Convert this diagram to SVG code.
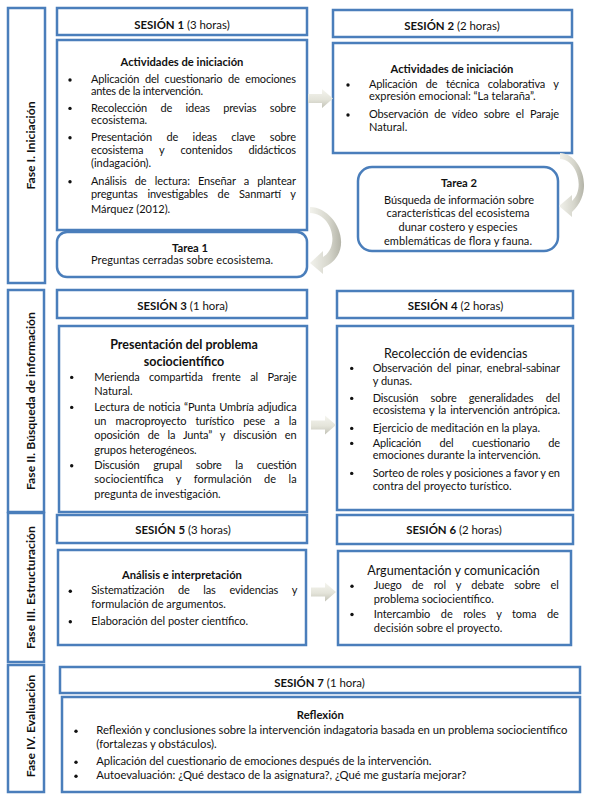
<svg xmlns="http://www.w3.org/2000/svg" width="595" height="800" viewBox="0 0 595 800">
<defs>
<style>
.box{fill:#fff;stroke:#4a7ebb;stroke-width:2.5}
.t{font-family:Lato,'Liberation Sans',sans-serif;font-size:11px;fill:#111}
.b{font-weight:bold}
.c{text-anchor:middle}
.hd{font-size:11.4px}
.tt{font-size:11.2px;font-weight:bold}
.ph{font-size:12.5px;font-weight:bold}
.big{font-size:12.6px}
.s7{font-size:11.3px}
.fase{font-family:Lato,'Liberation Sans',sans-serif;font-size:12.2px;font-weight:bold;fill:#111;text-anchor:middle}
.dot{fill:#111}
.arr{fill:url(#ga)}
.carr{fill:url(#gc)}
</style>
<linearGradient id="ga" x1="0" y1="0" x2="0" y2="1">
<stop offset="0" stop-color="#f5f5ef"/>
<stop offset="0.55" stop-color="#e4e4da"/>
<stop offset="1" stop-color="#c2c2b6"/>
</linearGradient>
<linearGradient id="gc" x1="0" y1="0" x2="1" y2="0">
<stop offset="0" stop-color="#f2f2ec"/>
<stop offset="0.6" stop-color="#d6d6cc"/>
<stop offset="1" stop-color="#b4b4a8"/>
</linearGradient>
<path id="blk" d="M0,-4.5 L14,-4.5 L14,-9.5 L25,0 L14,9.5 L14,4.5 L0,4.5 Z"/>
</defs>
<rect width="595" height="800" fill="#fff"/>

<g id="fase1"><rect class="box" x="8" y="8" width="37" height="275"/><text class="fase" transform="translate(35,145.5) rotate(-90)">Fase I. Iniciación</text></g>
<g id="fase2"><rect class="box" x="8" y="290" width="36" height="222"/><text class="fase" transform="translate(34.5,401) rotate(-90)">Fase II. Búsqueda de información</text></g>
<g id="fase3"><rect class="box" x="8" y="513" width="36" height="149"/><text class="fase" transform="translate(34.5,587.5) rotate(-90)">Fase III. Estructuración</text></g>
<g id="fase4"><rect class="box" x="8" y="665" width="36" height="127"/><text class="fase" transform="translate(35,726) rotate(-90)">Fase IV. Evaluación</text></g>

<g id="s1h"><rect class="box" x="57" y="8" width="250" height="27"/><text class="t c hd" x="182" y="28.5"><tspan class="b">SESIÓN 1</tspan> (3 horas)</text></g>
<g id="s1"><rect class="box" x="57" y="40" width="250" height="190"/>
<text class="t c tt" x="182" y="66">Actividades de iniciación</text>
<circle class="dot" cx="70" cy="80" r="1.7"/><circle class="dot" cx="70" cy="108.4" r="1.7"/><circle class="dot" cx="70" cy="137.8" r="1.7"/><circle class="dot" cx="70" cy="181.8" r="1.7"/>
<text class="t" x="91" y="83.3" word-spacing="2.9" textLength="205" lengthAdjust="spacing">Aplicación del cuestionario de emociones</text>
<text class="t" x="91" y="95" textLength="112" lengthAdjust="spacing">antes de la intervención.</text>
<text class="t" x="91" y="111.6" word-spacing="10.7" textLength="205" lengthAdjust="spacing">Recolección de ideas previas sobre</text>
<text class="t" x="91" y="124">ecosistema.</text>
<text class="t" x="91" y="141" word-spacing="11.8" textLength="205" lengthAdjust="spacing">Presentación de ideas clave sobre</text>
<text class="t" x="91" y="154" word-spacing="13.5" textLength="205" lengthAdjust="spacing">ecosistema y contenidos didácticos</text>
<text class="t" x="91" y="167.3">(indagación).</text>
<text class="t" x="91" y="185" word-spacing="5.4" textLength="205" lengthAdjust="spacing">Análisis de lectura: Enseñar a plantear</text>
<text class="t" x="91" y="198.3" word-spacing="7" textLength="205" lengthAdjust="spacing">preguntas investigables de Sanmartí y</text>
<text class="t" x="91" y="212.6">Márquez (2012).</text>
</g>
<g id="tarea1"><rect class="box" x="57" y="232" width="250" height="45" rx="10"/>
<text class="t c tt" x="190" y="251.6">Tarea 1</text>
<text class="t c" x="182" y="264" textLength="182" lengthAdjust="spacing">Preguntas cerradas sobre ecosistema.</text>
</g>

<g id="s2h"><rect class="box" x="333" y="10" width="239" height="27"/><text class="t c hd" x="452" y="29.5"><tspan class="b">SESIÓN 2</tspan> (2 horas)</text></g>
<g id="s2"><rect class="box" x="333" y="43" width="239" height="110"/>
<text class="t c tt" x="452" y="73.3">Actividades de iniciación</text>
<circle class="dot" cx="348" cy="85" r="1.7"/><circle class="dot" cx="348" cy="115" r="1.7"/>
<text class="t" x="369" y="88.3" word-spacing="5.8" textLength="190" lengthAdjust="spacing">Aplicación de técnica colaborativa y</text>
<text class="t" x="369" y="100">expresión emocional: “La telaraña”.</text>
<text class="t" x="369" y="118.3" word-spacing="3.4" textLength="190" lengthAdjust="spacing">Observación de vídeo sobre el Paraje</text>
<text class="t" x="369" y="131">Natural.</text>
</g>
<g id="tarea2"><rect class="box" x="358" y="167" width="200" height="84" rx="14"/>
<text class="t c tt" x="459" y="187.3">Tarea 2</text>
<text class="t c" x="459" y="204.3" textLength="150" lengthAdjust="spacing">Búsqueda de información sobre</text>
<text class="t c" x="458" y="217.3" textLength="143" lengthAdjust="spacing">características del ecosistema</text>
<text class="t c" x="458" y="231.3" textLength="119" lengthAdjust="spacing">dunar costero y especies</text>
<text class="t c" x="458" y="245.3" textLength="148" lengthAdjust="spacing">emblemáticas de flora y fauna.</text>
</g>

<g id="s3h"><rect class="box" x="57" y="290" width="250" height="28"/><text class="t c hd" x="182.5" y="310"><tspan class="b">SESIÓN 3</tspan> (1 hora)</text></g>
<g id="s3"><rect class="box" x="59" y="326" width="248" height="186"/>
<text class="t c ph" x="184" y="349">Presentación del problema</text>
<text class="t c ph" x="184" y="365.5">sociocientífico</text>
<circle class="dot" cx="71.7" cy="377.4" r="1.7"/><circle class="dot" cx="71.7" cy="407.4" r="1.7"/><circle class="dot" cx="71.7" cy="465.8" r="1.7"/>
<text class="t" x="94.3" y="380.6" word-spacing="6.6" textLength="202.4" lengthAdjust="spacing">Merienda compartida frente al Paraje</text>
<text class="t" x="94.3" y="395">Natural.</text>
<text class="t" x="94.3" y="410.6" word-spacing="1" textLength="202.4" lengthAdjust="spacing">Lectura de noticia “Punta Umbría adjudica</text>
<text class="t" x="94.3" y="425" word-spacing="6.4" textLength="202.4" lengthAdjust="spacing">un macroproyecto turístico pese a la</text>
<text class="t" x="94.3" y="439.3" word-spacing="5.3" textLength="202.4" lengthAdjust="spacing">oposición de la Junta” y discusión en</text>
<text class="t" x="94.3" y="454" textLength="102.4" lengthAdjust="spacing">grupos heterogéneos.</text>
<text class="t" x="94.3" y="469" word-spacing="11" textLength="202.4" lengthAdjust="spacing">Discusión grupal sobre la cuestión</text>
<text class="t" x="94.3" y="483.3" word-spacing="9.6" textLength="202.4" lengthAdjust="spacing">sociocientífica y formulación de la</text>
<text class="t" x="94.3" y="497.6" textLength="126.4" lengthAdjust="spacing">pregunta de investigación.</text>
</g>

<g id="s4h"><rect class="box" x="337" y="291" width="236" height="27"/><text class="t c hd" x="455.5" y="310"><tspan class="b">SESIÓN 4</tspan> (2 horas)</text></g>
<g id="s4"><rect class="box" x="337" y="326" width="236" height="184"/>
<text class="t c big" x="455.8" y="357.5">Recolección de evidencias</text>
<circle class="dot" cx="351.7" cy="368.4" r="1.7"/><circle class="dot" cx="351.7" cy="398.4" r="1.7"/><circle class="dot" cx="351.7" cy="428.4" r="1.7"/><circle class="dot" cx="351.7" cy="443.4" r="1.7"/><circle class="dot" cx="351.7" cy="473.4" r="1.7"/>
<text class="t" x="372.7" y="371.6" word-spacing="2.1" textLength="187.3" lengthAdjust="spacing">Observación del pinar, enebral-sabinar</text>
<text class="t" x="372.7" y="385">y dunas.</text>
<text class="t" x="372.7" y="401.6" word-spacing="9.6" textLength="187.3" lengthAdjust="spacing">Discusión sobre generalidades del</text>
<text class="t" x="372.7" y="414.3" word-spacing="1.2" textLength="187.3" lengthAdjust="spacing">ecosistema y la intervención antrópica.</text>
<text class="t" x="372.7" y="431.6" textLength="167.3" lengthAdjust="spacing">Ejercicio de meditación en la playa.</text>
<text class="t" x="372.7" y="446.6" word-spacing="15.8" textLength="187.3" lengthAdjust="spacing">Aplicación del cuestionario de</text>
<text class="t" x="372.7" y="459.3" textLength="168" lengthAdjust="spacing">emociones durante la intervención.</text>
<text class="t" x="372.7" y="476.6" textLength="187.3" lengthAdjust="spacing">Sorteo de roles y posiciones a favor y en</text>
<text class="t" x="372.7" y="490" textLength="139" lengthAdjust="spacing">contra del proyecto turístico.</text>
</g>

<g id="s5h"><rect class="box" x="57" y="515" width="250" height="28"/><text class="t c hd" x="183" y="534"><tspan class="b">SESIÓN 5</tspan> (3 horas)</text></g>
<g id="s5"><rect class="box" x="58" y="550" width="248" height="95"/>
<text class="t c tt" x="182" y="579.3">Análisis e interpretación</text>
<circle class="dot" cx="70.3" cy="591.2" r="1.7"/><circle class="dot" cx="70.3" cy="621.8" r="1.7"/>
<text class="t" x="91.3" y="594.3" word-spacing="11.1" textLength="206" lengthAdjust="spacing">Sistematización de las evidencias y</text>
<text class="t" x="91.3" y="607.6">formulación de argumentos.</text>
<text class="t" x="91.3" y="625">Elaboración del poster científico.</text>
</g>

<g id="s6h"><rect class="box" x="337" y="515" width="236" height="29"/><text class="t c hd" x="454" y="534"><tspan class="b">SESIÓN 6</tspan> (2 horas)</text></g>
<g id="s6"><rect class="box" x="338" y="551" width="233" height="94"/>
<text class="t c big" x="453.5" y="574.5">Argumentación y comunicación</text>
<circle class="dot" cx="352" cy="586.2" r="1.7"/><circle class="dot" cx="352" cy="614.5" r="1.7"/>
<text class="t" x="373.8" y="589.3" word-spacing="7.5" textLength="185" lengthAdjust="spacing">Juego de rol y debate sobre el</text>
<text class="t" x="373.8" y="603.3">problema sociocientífico.</text>
<text class="t" x="373.8" y="617.6" word-spacing="7.8" textLength="185" lengthAdjust="spacing">Intercambio de roles y toma de</text>
<text class="t" x="373.8" y="631.6">decisión sobre el proyecto.</text>
</g>

<g id="s7h"><rect class="box" x="60" y="667" width="520" height="26"/><text class="t c hd" x="319.5" y="687"><tspan class="b">SESIÓN 7</tspan> (1 hora)</text></g>
<g id="s7"><rect class="box" x="62" y="697" width="518" height="95"/>
<text class="t c tt" x="320.3" y="719">Reflexión</text>
<circle class="dot" cx="76" cy="731.2" r="1.7"/><circle class="dot" cx="76" cy="762.2" r="1.7"/><circle class="dot" cx="76" cy="776.2" r="1.7"/>
<text class="t s7" x="96.3" y="734.3" textLength="471" lengthAdjust="spacing">Reflexión y conclusiones sobre la intervención indagatoria basada en un problema sociocientífico</text>
<text class="t s7" x="96.3" y="748.3">(fortalezas y obstáculos).</text>
<text class="t s7" x="96.3" y="765.3" textLength="335" lengthAdjust="spacing">Aplicación del cuestionario de emociones después de la intervención.</text>
<text class="t s7" x="96.3" y="779.3" textLength="370" lengthAdjust="spacing">Autoevaluación: ¿Qué destaco de la asignatura?, ¿Qué me gustaría mejorar?</text>
</g>

<g id="connectors">
<use href="#blk" class="arr" transform="translate(308,98.5)"/>
<use href="#blk" class="arr" transform="translate(311,425)"/>
<use href="#blk" class="arr" transform="translate(311,592)"/>
<path class="carr" d="M310,207 C336,207 358,252 323,268 L323,274 L310,263 L323,251 L323,257 C340,247 333,214 310,213 Z"/>
<path class="carr" d="M560,153 C580,153 596,190 572,212 L572,217 L559,206 L572,195 L572,201 C585,190 578,160 560,159 Z"/>
</g>
</svg>
